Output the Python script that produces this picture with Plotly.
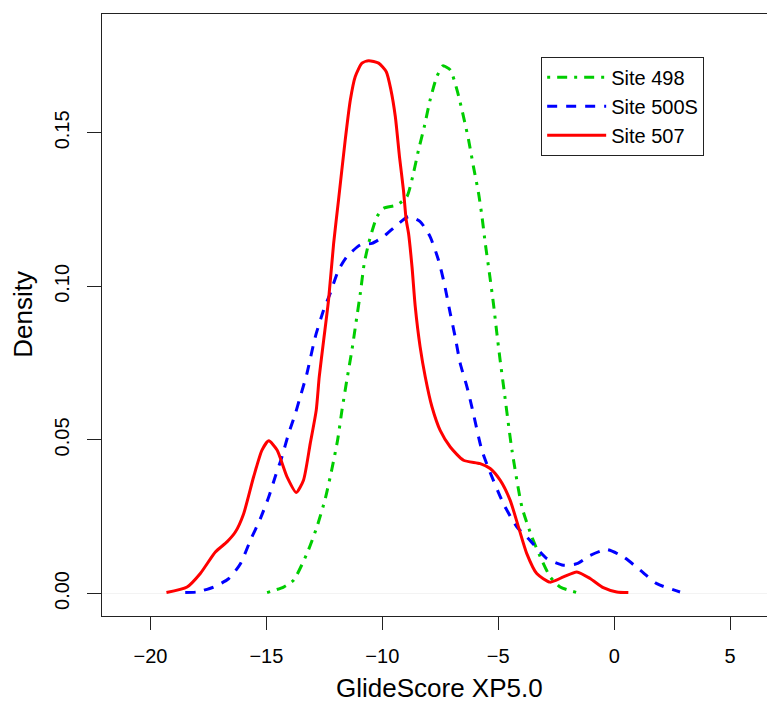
import plotly.graph_objects as go

# ---- data ----
site498_x = [-14.97, -14.26, -13.83, -13.25, -12.82, -12.46, -12.17, -11.93, -11.74, -11.53,
             -11.31, -11.14, -10.95, -10.78, -10.59, -10.45, -10.23, -9.95, -9.37, -8.94,
             -8.66, -8.44, -8.19, -7.94, -7.65, -7.39, -7.07, -6.78, -6.5, -6.28,
             -6.07, -5.85, -5.71, -5.56, -5.38, -5.21, -5.06, -4.92, -4.75, -4.41,
             -3.98, -3.55, -3.12, -2.76, -2.33, -1.61]
site498_y = [0.0003, 0.0021, 0.0043, 0.013, 0.0217, 0.0309, 0.0407, 0.0499, 0.0597, 0.0695,
             0.0793, 0.088, 0.0977, 0.1075, 0.114, 0.1178, 0.1227, 0.1254, 0.1265, 0.1292,
             0.1368, 0.1444, 0.152, 0.1607, 0.1683, 0.1718, 0.1705, 0.164, 0.1553, 0.1477,
             0.139, 0.1303, 0.1232, 0.114, 0.1042, 0.0945, 0.0847, 0.076, 0.0662, 0.0467,
             0.0282, 0.0184, 0.0108, 0.0054, 0.0021, 0.0003]

site500s_x = [-18.5, -17.99, -17.28, -16.63, -16.12, -15.69, -15.26, -14.9, -14.62, -14.33,
              -14.04, -13.75, -13.58, -13.25, -12.89, -12.53, -12.25, -11.89, -11.53, -10.95,
              -10.45, -9.95, -9.37, -8.87, -8.37, -7.94, -7.58, -7.33, -7.07, -6.86,
              -6.64, -6.35, -6.14, -5.71, -5.42, -4.78, -4.2, -3.63, -2.91, -2.19,
              -1.61, -1.04, -0.32, 0.4, 1.12, 1.84, 2.84]
site500s_y = [0.0003, 0.0005, 0.0021, 0.0048, 0.0097, 0.0173, 0.0244, 0.0314, 0.038, 0.0445,
              0.0521, 0.0586, 0.063, 0.0717, 0.0836, 0.0923, 0.0977, 0.1053, 0.1097, 0.1135,
              0.114, 0.1162, 0.12, 0.1227, 0.1211, 0.1162, 0.1086, 0.101, 0.0912, 0.0836,
              0.0749, 0.0673, 0.0608, 0.0467, 0.0407, 0.0293, 0.0217, 0.0173, 0.0114, 0.0092,
              0.0097, 0.0124, 0.0143, 0.0119, 0.0076, 0.0032, 0.0005]

site507_x = [-19.31, -18.42, -17.85, -17.2, -16.7, -16.34, -15.98, -15.55, -15.19, -14.9,
             -14.54, -14.11, -13.71, -13.4, -13.11, -12.85, -12.72, -12.53, -12.32, -12.1,
             -11.89, -11.6, -11.38, -11.17, -10.88, -10.59, -10.16, -9.83, -9.63, -9.44,
             -9.26, -9.09, -8.97, -8.87, -8.72, -8.58, -8.37, -8.15, -7.86, -7.5,
             -7.07, -6.5, -5.78, -5.35, -4.92, -4.49, -4.13, -3.77, -3.34, -2.76,
             -2.19, -1.61, -1.04, -0.47, 0.11, 0.61]
site507_y = [0.0003, 0.0021, 0.0065, 0.0135, 0.0168, 0.02, 0.026, 0.038, 0.0467, 0.0497,
             0.0467, 0.038, 0.0329, 0.0369, 0.0488, 0.0597, 0.0706, 0.0825, 0.0955, 0.114,
             0.1281, 0.1477, 0.1607, 0.1683, 0.1727, 0.1735, 0.1727, 0.1699, 0.164, 0.1553,
             0.1422, 0.1314, 0.1216, 0.1173, 0.1064, 0.0934, 0.0803, 0.0706, 0.0608, 0.053,
             0.0477, 0.0434, 0.0423, 0.0407, 0.0369, 0.0304, 0.0217, 0.013, 0.0065, 0.0037,
             0.0054, 0.007, 0.0049, 0.0019, 0.0005, 0.0003]

series_names = ["Site 498", "Site 500S", "Site 507"]
x_ticks = [-20, -15, -10, -5, 0, 5]
y_ticks = [0.0, 0.05, 0.10, 0.15]
y_ticklabels = ["0.00", "0.05", "0.10", "0.15"]

FONT = "Liberation Sans, Arial, Helvetica, sans-serif"

fig = go.Figure()
fig.add_trace(go.Scatter(x=site498_x, y=site498_y, mode="lines", name=series_names[0],
                         line=dict(color="#00CD00", width=3, dash="3px,7px,10px,7px",
                                   shape="spline", smoothing=0.6)))
fig.add_trace(go.Scatter(x=site500s_x, y=site500s_y, mode="lines", name=series_names[1],
                         line=dict(color="#0000FF", width=3, dash="10px,9px",
                                   shape="spline", smoothing=0.6)))
fig.add_trace(go.Scatter(x=site507_x, y=site507_y, mode="lines", name=series_names[2],
                         line=dict(color="#FF0000", width=3, shape="spline", smoothing=0.6)))

L, T, B = 101.5, 14, 615.7
W, H = 767, 704
pw, ph = W - L, B - T

fig.update_layout(
    width=W, height=H,
    margin=dict(l=L, r=0, t=T, b=H - B, pad=0),
    paper_bgcolor="white", plot_bgcolor="white",
    font=dict(family=FONT, size=20, color="black"),
    showlegend=True,
    legend=dict(x=(541 - L) / pw, y=(B - 56.7) / ph, xanchor="left", yanchor="top",
                bgcolor="white", bordercolor="#222222", borderwidth=1,
                font=dict(family=FONT, size=20, color="black"),
                itemwidth=59, tracegroupgap=0),
    xaxis=dict(range=[-22.09, 6.59], tickvals=x_ticks, ticks="outside", ticklen=13,
               tickwidth=1, tickcolor="#222222", showline=True, linecolor="#222222",
               linewidth=1, mirror=True, showgrid=False, zeroline=False,
               ticklabelstandoff=9, tickfont=dict(family=FONT, size=20)),
    yaxis=dict(range=[-0.00733, 0.1887], tickvals=y_ticks, ticktext=y_ticklabels,
               tickangle=-90, ticks="outside", ticklen=14, tickwidth=1, tickcolor="#222222",
               showline=True, linecolor="#222222", linewidth=1, mirror=False,
               showgrid=False, zeroline=True, zerolinecolor="#f3f3f3", zerolinewidth=1,
               ticklabelstandoff=10, tickfont=dict(family=FONT, size=20)),
    annotations=[
        dict(text="GlideScore XP5.0", xref="paper", yref="paper",
             x=(439.5 - L) / pw, y=(B - 688) / ph, xanchor="center", yanchor="middle",
             showarrow=False, font=dict(family=FONT, size=26)),
        dict(text="Density", xref="paper", yref="paper",
             x=(23 - L) / pw, y=(B - 314) / ph, xanchor="center", yanchor="middle",
             textangle=-90, showarrow=False, font=dict(family=FONT, size=26)),
    ],
)

fig.write_html("out.html", config={"displayModeBar": False},
               post_script="document.body.style.margin='0';document.body.style.overflow='hidden';")
